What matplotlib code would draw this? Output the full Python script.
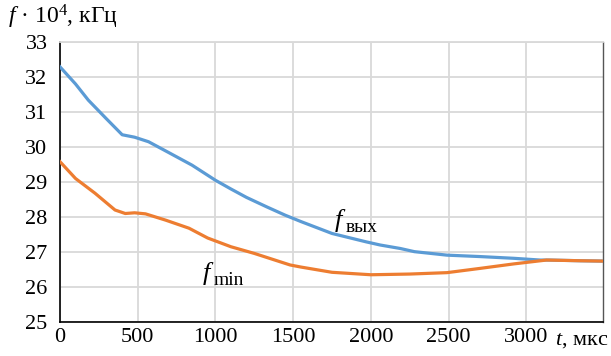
import matplotlib
matplotlib.use("Agg")
import matplotlib.pyplot as plt

plt.rcParams['font.family'] = ['Liberation Serif', 'DejaVu Serif']
plt.rcParams['mathtext.fontset'] = 'custom'
plt.rcParams['mathtext.rm'] = 'Liberation Serif'
plt.rcParams['mathtext.it'] = 'Liberation Serif:italic'

# data
t_out = [0, 100, 182, 300, 400, 480, 570, 700, 850, 1000, 1100, 1200, 1330, 1450,
         1550, 1750, 1970, 2060, 2190, 2280, 2490, 2700, 2920, 3090, 3150, 3350, 3494]
f_out = [32.29, 31.8, 31.34, 30.8, 30.35, 30.28, 30.15, 29.84, 29.48, 29.05, 28.8,
         28.56, 28.29, 28.05, 27.87, 27.53, 27.29, 27.2, 27.1, 27.01, 26.91, 26.87,
         26.82, 26.77, 26.77, 26.75, 26.74]
t_min = [0, 100, 225, 354, 420, 480, 550, 680, 830, 950, 1100, 1250, 1480, 1550,
         1750, 2000, 2250, 2490, 2700, 2920, 3130, 3350, 3494]
f_min = [29.58, 29.1, 28.68, 28.2, 28.1, 28.12, 28.09, 27.91, 27.68, 27.4, 27.15,
         26.96, 26.63, 26.57, 26.42, 26.35, 26.37, 26.41, 26.53, 26.66, 26.77, 26.75,
         26.74]
x_ticks = [0, 500, 1000, 1500, 2000, 2500, 3000]
y_ticks = [25, 26, 27, 28, 29, 30, 31, 32, 33]

fig = plt.figure(figsize=(6.11, 3.56), dpi=100)
ax = fig.add_axes([60/611, 34/356, 543/611, 280/356])

ax.plot(t_out, f_out, color='#5B9BD5', lw=2.3, zorder=3)
ax.plot(t_min, f_min, color='#ED7D31', lw=2.3, zorder=4)

ax.set_xlim(0, 3494)
ax.set_ylim(25, 33)
ax.set_xticks(x_ticks)
ax.set_yticks(y_ticks)
ax.tick_params(axis='both', length=0, labelsize=16, colors='black')
ax.tick_params(axis='x', pad=4)
ax.tick_params(axis='y', pad=9)
ax.grid(True, color='#D9D9D9', lw=1.3, zorder=0)
ax.set_axisbelow(True)

for s in ['left', 'bottom']:
    ax.spines[s].set_color('black')
    ax.spines[s].set_linewidth(1.2)
ax.spines['right'].set_color('#555555')
ax.spines['right'].set_linewidth(1.0)
ax.spines['top'].set_color('#D9D9D9')
ax.spines['top'].set_linewidth(1.3)

fig.text(8/611, 1 - 17/356, r'$f$ · 10$^4$, кГц', fontsize=17, va='center', ha='left')
fig.text(555/611, 1 - 340/356, r'$t$, мкс', fontsize=16, va='center', ha='left')

# curve labels: italic f with upright subscript
ax.text(1770, 27.72, 'f', fontsize=19, style='italic', ha='left', va='baseline')
ax.text(1840, 27.58, 'вых', fontsize=14, ha='left', va='baseline')
ax.text(920, 26.2, 'f', fontsize=19, style='italic', ha='left', va='baseline')
ax.text(990, 26.06, 'min', fontsize=14, ha='left', va='baseline')

fig.savefig('out.png', dpi=100)
